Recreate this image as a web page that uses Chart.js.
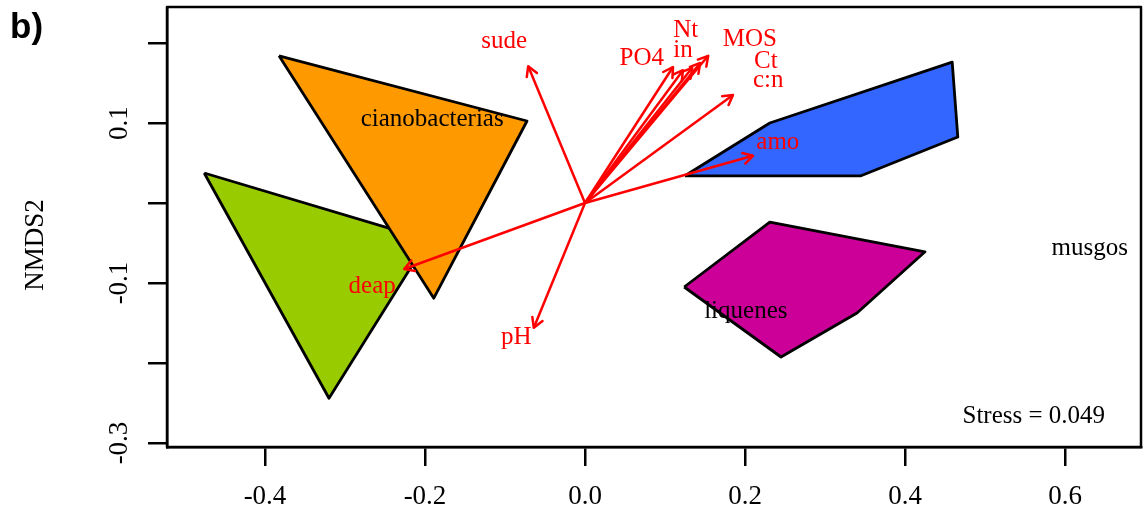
<!DOCTYPE html>
<html><head><meta charset="utf-8">
<script src="https://cdn.jsdelivr.net/npm/chart.js@4.4.0/dist/chart.umd.min.js"></script>
<style>html,body{margin:0;padding:0;background:#fff;}canvas{display:block;}</style>
</head><body>
<canvas id="c" width="1144" height="516"></canvas>
<script>
// ---- axis ticks ----
const xTicks = [-0.4, -0.2, 0.0, 0.2, 0.4, 0.6];
const xTickLabels = ['-0.4', '-0.2', '0.0', '0.2', '0.4', '0.6'];
const yTicks = [-0.3, -0.2, -0.1, 0.0, 0.1, 0.2];
const yTickLabels = ['-0.3', '', '-0.1', '', '0.1', ''];
const yAxisTitle = 'NMDS2';
const panelTag = 'b)';
const stressText = 'Stress = 0.049';
const stressPos = [0.561, -0.275];

// ---- hulls (NMDS1, NMDS2) ----
const greenX = [-0.476, -0.196, -0.320];
const greenY = [0.0375, -0.046, -0.244];
const cianoX = [-0.3825, -0.0725, -0.189];
const cianoY = [0.184, 0.1025, -0.119];
const musgosX = [0.125, 0.345, 0.466, 0.459, 0.231];
const musgosY = [0.034, 0.034, 0.0825, 0.176, 0.100];
const liqX = [0.124, 0.231, 0.425, 0.340, 0.245];
const liqY = [-0.105, -0.024, -0.061, -0.1375, -0.1925];

// ---- group labels ----
const groupNames = ['cianobacterias', 'liquenes', 'musgos'];
const groupLabelX = [-0.191, 0.201, 0.631];
const groupLabelY = [0.096, -0.144, -0.065];

// ---- environmental vectors ----
const envVars = ['sude', 'PO4', 'in', 'Nt', 'Ct', 'MOS', 'c:n', 'amo', 'deap', 'pH'];
const envX = [-0.071, 0.110, 0.1225, 0.134, 0.144, 0.154, 0.185, 0.210, -0.226, -0.064];
const envY = [0.171, 0.170, 0.166, 0.169, 0.175, 0.184, 0.135, 0.059, -0.0825, -0.156];
const envLabelX = [-0.101, 0.071, 0.1225, 0.126, 0.226, 0.206, 0.229, 0.241, -0.266, -0.086];
const envLabelY = [0.19375, 0.1725, 0.1825, 0.2075, 0.169, 0.196, 0.145, 0.0675, -0.1125, -0.176];

const SERIF = '"Liberation Serif", "Times New Roman", serif';

function pts(xs, ys) {
  const p = xs.map((x, i) => ({x: x, y: ys[i]}));
  p.push({x: xs[0], y: ys[0]});
  return p;
}
function hull(label, xs, ys, color, order) {
  return {label: label, data: pts(xs, ys), showLine: true, fill: 'shape',
    backgroundColor: color, borderColor: '#000', borderWidth: 2.8,
    borderJoinStyle: 'round', pointRadius: 0, tension: 0, order: order};
}

const datasets = [
  hull('verde', greenX, greenY, '#99CC00', 10),
  hull('cianobacterias', cianoX, cianoY, '#FF9900', 9),
  hull('musgos', musgosX, musgosY, '#3366FF', 8),
  hull('liquenes', liqX, liqY, '#CC0099', 7)
];
envVars.forEach((v, i) => {
  datasets.push({label: v, data: [{x: 0, y: 0}, {x: envX[i], y: envY[i]}],
    showLine: true, fill: false, borderColor: '#FF0000', borderWidth: 2.5,
    pointRadius: 0, tension: 0, order: 1});
});

const decor = {
  id: 'decor',
  afterDatasetsDraw(chart) {
    const ctx = chart.ctx, xs = chart.scales.x, ys = chart.scales.y;
    const a = chart.chartArea;
    ctx.save();
    // arrow heads
    ctx.strokeStyle = '#FF0000'; ctx.lineWidth = 2.5; ctx.lineCap = 'round'; ctx.lineJoin = 'round';
    const ox = xs.getPixelForValue(0), oy = ys.getPixelForValue(0);
    envVars.forEach((v, i) => {
      const tx = xs.getPixelForValue(envX[i]), ty = ys.getPixelForValue(envY[i]);
      const ang = Math.atan2(ty - oy, tx - ox), L = 11, h = Math.PI / 6;
      ctx.beginPath();
      ctx.moveTo(tx - L * Math.cos(ang - h), ty - L * Math.sin(ang - h));
      ctx.lineTo(tx, ty);
      ctx.lineTo(tx - L * Math.cos(ang + h), ty - L * Math.sin(ang + h));
      ctx.stroke();
    });
    // texts
    ctx.textAlign = 'center'; ctx.textBaseline = 'alphabetic';
    ctx.font = '25px ' + SERIF;
    ctx.fillStyle = '#FF0000';
    envVars.forEach((v, i) => {
      ctx.fillText(v, xs.getPixelForValue(envLabelX[i]), ys.getPixelForValue(envLabelY[i]));
    });
    ctx.fillStyle = '#000';
    groupNames.forEach((g, i) => {
      ctx.fillText(g, xs.getPixelForValue(groupLabelX[i]), ys.getPixelForValue(groupLabelY[i]));
    });
    ctx.fillText(stressText, xs.getPixelForValue(stressPos[0]), ys.getPixelForValue(stressPos[1]));
    // box
    ctx.strokeStyle = '#000'; ctx.lineWidth = 2.5;
    ctx.strokeRect(a.left, a.top, a.right - a.left, a.bottom - a.top);
    ctx.restore();
  },
  afterDraw(chart) {
    const ctx = chart.ctx, ys = chart.scales.y;
    ctx.save();
    ctx.fillStyle = '#000';
    ctx.font = '27px ' + SERIF;
    ctx.textAlign = 'center'; ctx.textBaseline = 'alphabetic';
    yTicks.forEach((v, i) => {
      if (!yTickLabels[i]) return;
      ctx.save();
      ctx.translate(127, ys.getPixelForValue(v));
      ctx.rotate(-Math.PI / 2);
      ctx.fillText(yTickLabels[i], 0, 0);
      ctx.restore();
    });
    ctx.save();
    ctx.translate(43, 245);
    ctx.rotate(-Math.PI / 2);
    ctx.fillText(yAxisTitle, 0, 0);
    ctx.restore();
    ctx.textAlign = 'left';
    ctx.font = 'bold 35px "Liberation Sans", Arial, sans-serif';
    ctx.fillText(panelTag, 10, 38);
    ctx.restore();
  }
};

const gridOpts = {drawOnChartArea: false, drawTicks: true, tickLength: 19, color: '#000', lineWidth: 2.5};

new Chart(document.getElementById('c'), {
  type: 'scatter',
  data: {datasets: datasets},
  options: {
    responsive: false, animation: false, devicePixelRatio: 1,
    layout: {padding: {left: 0, top: 7, right: 3, bottom: 0}},
    plugins: {legend: {display: false}, tooltip: {enabled: false}},
    scales: {
      x: {type: 'linear', position: 'bottom', min: -0.5225, max: 0.695,
        afterBuildTicks: s => { s.ticks = xTicks.map(v => ({value: v})); },
        afterFit: s => { s.height = 69; },
        grid: gridOpts,
        border: {display: true, color: '#000', width: 2.5},
        ticks: {font: {family: SERIF, size: 27}, color: '#000', padding: 15,
          maxRotation: 0, minRotation: 0, autoSkip: false,
          callback: (v, i) => xTickLabels[i]}
      },
      y: {type: 'linear', position: 'left', min: -0.305, max: 0.245,
        afterBuildTicks: s => { s.ticks = yTicks.map(v => ({value: v})); },
        afterFit: s => { s.width = 167; },
        grid: gridOpts,
        border: {display: true, color: '#000', width: 2.5},
        ticks: {display: false}
      }
    }
  },
  plugins: [decor]
});
</script>
</body></html>
